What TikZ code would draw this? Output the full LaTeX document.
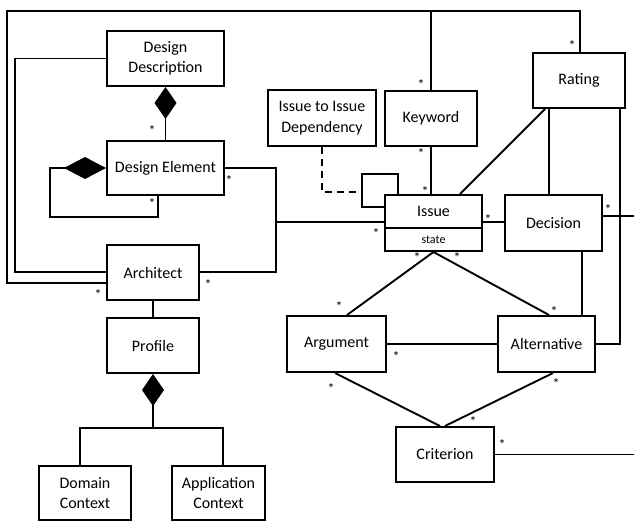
\documentclass[tikz,border=0pt]{standalone}
\usepackage{fontspec}
\setmainfont{Carlito}
\usetikzlibrary{arrows.meta}
\begin{document}
\begin{tikzpicture}[x=1pt,y=-1pt,
  box/.style={draw,line width=2pt,inner sep=0pt,align=center,
    font=\fontsize{16}{20.5}\selectfont},
  small/.style={draw,line width=2pt,inner sep=0pt,align=center,
    font=\fontsize{12}{14}\selectfont},
  conn/.style={line width=1.9pt},
  mult/.style={inner sep=0pt,font=\fontsize{14}{14}\selectfont,yshift=-2.5pt},
  comp/.style={{Diamond[length=#1,width=22pt]}-},
]
\useasboundingbox (0,0) rectangle (634,522);
% boxes
\node[box,minimum width=117pt,minimum height=55pt] (dd) at (165.5,58.5) {Design\\Description};
\node[box,minimum width=117pt,minimum height=54pt] (de) at (165.5,168) {Design Element};
\node[box,minimum width=92pt,minimum height=55pt] (arch) at (153,272.5) {Architect};
\node[box,minimum width=92pt,minimum height=55pt] (prof) at (153,345.5) {Profile};
\node[box,minimum width=92pt,minimum height=54pt] (dc) at (85,493) {Domain\\Context};
\node[box,minimum width=93pt,minimum height=54pt] (ac) at (218.5,493) {Application\\Context};
\node[box,minimum width=108pt,minimum height=56pt] (iid) at (322,118) {Issue to Issue\\Dependency};
\node[box,minimum width=92pt,minimum height=55pt] (kw) at (431,118.5) {Keyword};
\node[box,minimum width=92pt,minimum height=55pt] (rating) at (579,80.5) {Rating};
\node[box,minimum width=97pt,minimum height=33pt] (issue) at (433.5,211.5) {Issue};
\node[small,minimum width=97pt,minimum height=23pt] (state) at (433.5,239.5) {state};
\node[box,minimum width=97pt,minimum height=56pt] (dec) at (553.5,223) {Decision};
\node[box,minimum width=99pt,minimum height=56pt] (arg) at (336.5,344) {Argument};
\node[box,minimum width=97pt,minimum height=56pt] (alt) at (546.5,344) {Alternative};
\node[box,minimum width=98pt,minimum height=55pt] (crit) at (445,454.5) {Criterion};
% free ends at the right edge
\coordinate (edgeA) at (634,216);
\coordinate (edgeB) at (634,454.5);
% connectors
\draw[conn] (arch.west |- 0,283) -- (7,283) -- (7,11) -- (580,11) -- (rating.north -| 580,0);
\draw[conn] (dd.west) -| (15,272) -- (arch.west |- 0,272);
\draw[conn] (kw.north) -- (kw.north |- 0,11);
\draw[conn] (kw.south) -- (kw.south |- issue.north);
\draw[conn] (de.east) -| (276,272) -- (arch.east |- 0,272);
\draw[conn] (276,222) -- (issue.west |- 0,222);
\draw[conn,comp=42pt] (de.west) -- (50,168) |- (158,217) -- (de.south -| 158,0);
\draw[conn,comp=32pt] (dd.south) -- (de.north);
\draw[conn,comp=32pt] (prof.south) -- (153,428);
\draw[conn] (dc.north -| 80,0) |- (223,428) -- (ac.north -| 223,0);
\draw[conn] (arch.south) -- (prof.north);
\draw[conn,dash pattern=on 7pt off 5pt] (iid.south) |- (362,192);
\draw[conn] (issue.west |- 0,207) -- (362,207) -- (362,174) -- (398,174) -- (issue.north -| 398,0);
\draw[conn] (issue.north -| 460,0) -- (rating.south -| 545,0);
\draw[conn] (rating.south -| 549,0) -- (dec.north -| 549,0);
\draw[conn] (rating.south -| 620,0) |- (alt.east);
\draw[conn] (dec.east |- edgeA) -- (edgeA);
\draw[conn] (crit.east) -- (edgeB);
\draw[conn] (issue.east |- 0,222) -- (dec.west |- 0,222);
\draw[conn] (dec.south -| 582,0) -- (alt.north -| 582,0);
\draw[conn] (state.south) -- (arg.north -| 347,0);
\draw[conn] (state.south) -- (alt.north -| 549,0);
\draw[conn] (arg.east) -- (alt.west);
\draw[conn] (arg.south -| 335,0) -- (crit.north -| 440,0);
\draw[conn] (alt.south -| 553,0) -- (crit.north -| 445,0);
% multiplicities
\foreach \i/\p in {1/{572,43},2/{421,82},3/{421,151},4/{425,189},5/{376,231},6/{488,217},7/{608,207},8/{417,255},9/{457,255},10/{339,304},11/{554,309},12/{396,354},13/{331,386},14/{556,381},15/{473,419},16/{502,442},17/{229,178},18/{152,201},19/{152,128},20/{208,282},21/{98,292}}
  \node[mult] (m\i) at (\p) {*};
\end{tikzpicture}
\end{document}
